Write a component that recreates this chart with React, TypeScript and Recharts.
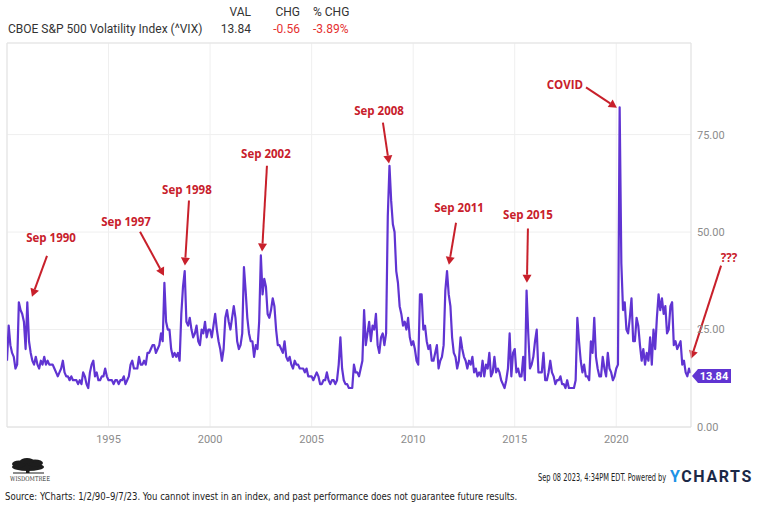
import React, { useLayoutEffect, useRef, useState } from 'react';
import { LineChart, Line, XAxis, YAxis, CartesianGrid, ReferenceLine, ReferenceDot } from 'recharts';

// Monthly VIX levels, Jan of first year through Dec of last year
const vix1990s = [
  17, 26, 21, 19, 18, 15, 16, 32, 30, 29, 27, 20,
  32, 22, 19, 17, 16, 18, 16, 15, 17, 16, 18, 16,
  17, 16, 16, 16, 15, 14, 13, 14, 15, 17, 14, 13,
  13, 12, 13, 12, 12, 12, 11, 12, 11, 14, 13, 11,
  10, 14, 16, 17, 13, 14, 12, 12, 13, 13, 15, 13,
  12, 12, 12, 11, 12, 12, 11, 12, 12, 13, 11, 12,
  13, 16, 17, 15, 15, 15, 18, 16, 16, 17, 16, 19,
  19, 20, 21, 21, 19, 20, 21, 24, 22, 37, 27, 25,
  25, 20, 18, 19, 18, 19, 17, 29, 36, 40, 27, 26,
  28, 25, 23, 24, 26, 22, 21, 25, 24, 27, 23, 25,
];
const vix2000s = [
  25, 23, 26, 29, 25, 22, 20, 17, 20, 28, 30, 27,
  25, 28, 31, 28, 22, 20, 21, 24, 41, 35, 28, 24,
  22, 22, 18, 21, 20, 27, 44, 34, 38, 36, 29, 28,
  30, 33, 31, 25, 21, 21, 20, 19, 22, 18, 17, 18,
  16, 15, 17, 16, 16, 15, 15, 15, 14, 15, 13, 13,
  13, 12, 13, 14, 13, 11, 11, 12, 12, 14, 12, 11,
  12, 12, 11, 12, 16, 23, 15, 12, 11, 11, 10, 10,
  10, 16, 14, 14, 13, 15, 17, 30, 21, 24, 27, 22,
  26, 25, 29, 21, 19, 23, 24, 21, 24, 54, 67, 58,
  52, 50, 40, 37, 31, 29, 26, 27, 25, 28, 23, 21,
];
const vix2010s = [
  22, 20, 17, 16, 34, 34, 25, 26, 22, 20, 21, 17,
  17, 19, 21, 15, 17, 18, 21, 35, 40, 34, 31, 23,
  19, 18, 15, 17, 23, 20, 18, 17, 15, 17, 16, 18,
  14, 15, 13, 14, 13, 17, 13, 16, 15, 19, 13, 14,
  18, 14, 15, 14, 12, 11, 10, 12, 15, 24, 13, 19,
  20, 14, 15, 13, 13, 18, 12, 35, 24, 15, 16, 18,
  22, 25, 14, 14, 14, 19, 12, 12, 14, 17, 14, 13,
  11, 12, 12, 13, 11, 11, 10, 12, 10, 10, 10, 10,
  12, 28, 22, 17, 14, 16, 13, 13, 12, 22, 19, 28,
  18, 15, 13, 13, 18, 15, 13, 19, 15, 14, 12, 13,
];
const vix2020s = [
  15, 16, 82, 42, 30, 32, 25, 24, 28, 33, 22, 22,
  28, 26, 21, 17, 20, 16, 19, 17, 23, 16, 25, 20,
  28, 34, 30, 33, 29, 31, 24, 25, 31, 32, 21, 22,
  20, 21, 22, 16, 17, 14, 13, 15, 13.84,
];

const yearTicks = [1995, 2000, 2005, 2010, 2015, 2020];
const valueTicks = [0, 25, 50, 75];
const lastValue = 13.84;

// callouts: label position, arrow tail and arrow tip (year, index level)
const callouts = [
  { text: 'Sep 1990', lx: 1992.17, ly: 48.5, tx: 1991.97, ty: 43.9, hx: 1991.23, hy: 33.4 },
  { text: 'Sep 1997', lx: 1995.86, ly: 52.7, tx: 1996.55, ty: 50.1, hx: 1997.73, hy: 38.8 },
  { text: 'Sep 1998', lx: 1998.86, ly: 60.9, tx: 1998.96, ty: 58.1, hx: 1998.76, hy: 41.4 },
  { text: 'Sep 2002', lx: 2002.75, ly: 70.1, tx: 2002.8, ty: 67.0, hx: 2002.56, hy: 45.0 },
  { text: 'Sep 2008', lx: 2008.32, ly: 81.2, tx: 2008.51, ty: 78.1, hx: 2008.81, hy: 67.6 },
  { text: 'Sep 2011', lx: 2012.26, ly: 56.3, tx: 2012.11, ty: 52.4, hx: 2011.76, hy: 41.6 },
  { text: 'Sep 2015', lx: 2015.65, ly: 54.5, tx: 2015.65, ty: 50.9, hx: 2015.6, hy: 37.0 },
  { text: 'COVID', lx: 2017.47, ly: 87.8, tx: 2018.51, ty: 87.1, hx: 2020.03, hy: 81.9 },
  { text: '???', lx: 2025.55, ly: 43.6, tx: 2025.16, ty: 41.4, hx: 2023.68, hy: 17.5 },
];

const series = [...vix1990s, ...vix2000s, ...vix2010s, ...vix2020s];
const data = series.map((v, i) => ({ t: 1990 + i / 12, vix: v }));

const RED = '#c8202b';
const PURPLE = '#6034d2';
const NARROW = "'Liberation Sans Narrow', 'DejaVu Sans Condensed', 'Roboto', sans-serif";

const Arrow = (props: any) => {
  const { x1, y1, x2, y2 } = props;
  const a = Math.atan2(y2 - y1, x2 - x1);
  const len = 8;
  const w = 4.5;
  const bx = x2 - len * Math.cos(a);
  const by = y2 - len * Math.sin(a);
  const px = -Math.sin(a) * w;
  const py = Math.cos(a) * w;
  return (
    <g>
      <line x1={x1} y1={y1} x2={bx} y2={by} stroke={RED} strokeWidth={2} />
      <polygon points={`${x2},${y2} ${bx + px},${by + py} ${bx - px},${by - py}`} fill={RED} />
    </g>
  );
};

const calloutLabel = (text: string) => (props: any) => (
  <text x={props.cx} y={props.cy} textAnchor="middle" dominantBaseline="central"
    fill={RED} fontSize={11.5} fontWeight={700} fontFamily="'Open Sans', sans-serif">
    {text}
  </text>
);

const ValueTag = (props: any) => {
  const { cx, cy } = props;
  const y = cy + 3;
  return (
    <g>
      <polygon
        points={`${cx + 1},${y} ${cx + 7},${y - 7} ${cx + 40},${y - 7} ${cx + 40},${y + 7} ${cx + 7},${y + 7}`}
        fill={PURPLE}
      />
      <text x={cx + 23} y={y} textAnchor="middle" dominantBaseline="central" fill="#fff"
        fontSize={11} fontWeight={700} fontFamily="Roboto, sans-serif">
        {lastValue.toFixed(2)}
      </text>
    </g>
  );
};

// squeezes a line of text horizontally so it spans the given width
const FitText = ({ left, top, width, style, children }: any) => {
  const ref = useRef<HTMLDivElement>(null);
  const [scale, setScale] = useState(1);
  useLayoutEffect(() => {
    if (ref.current) setScale(width / ref.current.scrollWidth);
  }, [width]);
  return (
    <div ref={ref} style={{
      position: 'absolute', left, top, whiteSpace: 'nowrap', transformOrigin: 'left center',
      transform: `scaleX(${scale})`, ...style,
    }}>
      {children}
    </div>
  );
};

const headStyle: React.CSSProperties = { position: 'absolute', fontSize: 12, color: '#333', whiteSpace: 'nowrap' };

const WisdomTreeLogo = () => (
  <svg width={60} height={30} viewBox="0 455 60 30" style={{ position: 'absolute', left: 0, top: 455 }}>
    <g fill="#1d1d1d">
      <ellipse cx={28} cy={467} rx={16} ry={4} />
      <ellipse cx={19} cy={464} rx={7} ry={3.5} />
      <ellipse cx={35} cy={463} rx={8} ry={3.5} />
      <ellipse cx={27} cy={461} rx={7} ry={3} />
      <rect x={26} y={468} width={3.5} height={5} />
      <rect x={13} y={472.5} width={31} height={1} />
    </g>
    <text x={10} y={481} fontSize={6.5} fontFamily="'DejaVu Serif', serif" fill="#333"
      textLength={40} lengthAdjust="spacingAndGlyphs">
      WISDOMTREE
    </text>
  </svg>
);

export default function App() {
  return (
    <div style={{ position: 'absolute', left: 0, top: 0, width: 761, height: 511, background: '#fff', fontFamily: 'Roboto, sans-serif', overflow: 'hidden' }}>
      <div style={{ ...headStyle, left: 8, top: 22 }}>CBOE S&amp;P 500 Volatility Index (^VIX)</div>
      <div style={{ ...headStyle, right: 761 - 251, top: 5 }}>VAL</div>
      <div style={{ ...headStyle, right: 761 - 251, top: 22 }}>13.84</div>
      <div style={{ ...headStyle, right: 761 - 300, top: 5 }}>CHG</div>
      <div style={{ ...headStyle, right: 761 - 300, top: 22, color: '#e5302f' }}>-0.56</div>
      <div style={{ ...headStyle, left: 313, top: 5 }}>% CHG</div>
      <div style={{ ...headStyle, left: 313, top: 22, color: '#e5302f' }}>-3.89%</div>

      <div style={{ position: 'absolute', left: 0, top: 0 }}>
        <LineChart width={761} height={455} data={data} margin={{ top: 43, right: 0, bottom: 0, left: 7 }}>
          <CartesianGrid stroke="#efefef" />
          <XAxis
            dataKey="t"
            type="number"
            domain={[1990, 2023.68]}
            ticks={yearTicks}
            tickFormatter={(v) => String(Math.round(v))}
            axisLine={{ stroke: '#dedede' }}
            tickLine={false}
            tick={{ fill: '#8c8c8c', fontSize: 11 }}
            height={28}
            allowDataOverflow
          />
          <YAxis
            orientation="right"
            domain={[0, 98.5]}
            ticks={valueTicks}
            tickFormatter={(v) => v.toFixed(2)}
            axisLine={{ stroke: '#e3e3e3' }}
            tickLine={false}
            tickSize={0}
            tickMargin={6}
            tick={{ fill: '#8c8c8c', fontSize: 11, textAnchor: 'start' }}
            width={70}
            allowDataOverflow
          />
          <ReferenceLine y={98.5} stroke="#e3e3e3" />
          <ReferenceLine x={1990} stroke="#e3e3e3" />
          <Line
            type="linear"
            dataKey="vix"
            stroke={PURPLE}
            strokeWidth={2.2}
            strokeLinejoin="round"
            dot={false}
            isAnimationActive={false}
          />
          {callouts.map((c) => (
            <ReferenceLine
              key={c.text + '-arrow'}
              segment={[{ x: c.tx, y: c.ty }, { x: c.hx, y: c.hy }]}
              ifOverflow="visible"
              shape={Arrow}
            />
          ))}
          {callouts.map((c) => (
            <ReferenceDot key={c.text} x={c.lx} y={c.ly} ifOverflow="visible" shape={calloutLabel(c.text)} />
          ))}
          <ReferenceDot x={2023.68} y={lastValue} ifOverflow="visible" shape={ValueTag} />
        </LineChart>
      </div>

      <WisdomTreeLogo />
      <FitText left={538} top={471} width={128} style={{ fontSize: 10.5, color: '#222', fontFamily: NARROW }}>
        Sep 08 2023, 4:34PM EDT. Powered by
      </FitText>
      <div style={{ position: 'absolute', left: 670, top: 467, fontSize: 16, fontWeight: 700, letterSpacing: 1.6, whiteSpace: 'nowrap' }}>
        <span style={{ color: '#1e93e6' }}>Y</span><span style={{ color: '#1b2947' }}>CHARTS</span>
      </div>
      <FitText left={5} top={490} width={512} style={{ fontSize: 10.5, color: '#222', fontFamily: NARROW }}>
        Source: YCharts: 1/2/90–9/7/23. You cannot invest in an index, and past performance does not guarantee future results.
      </FitText>
    </div>
  );
}
